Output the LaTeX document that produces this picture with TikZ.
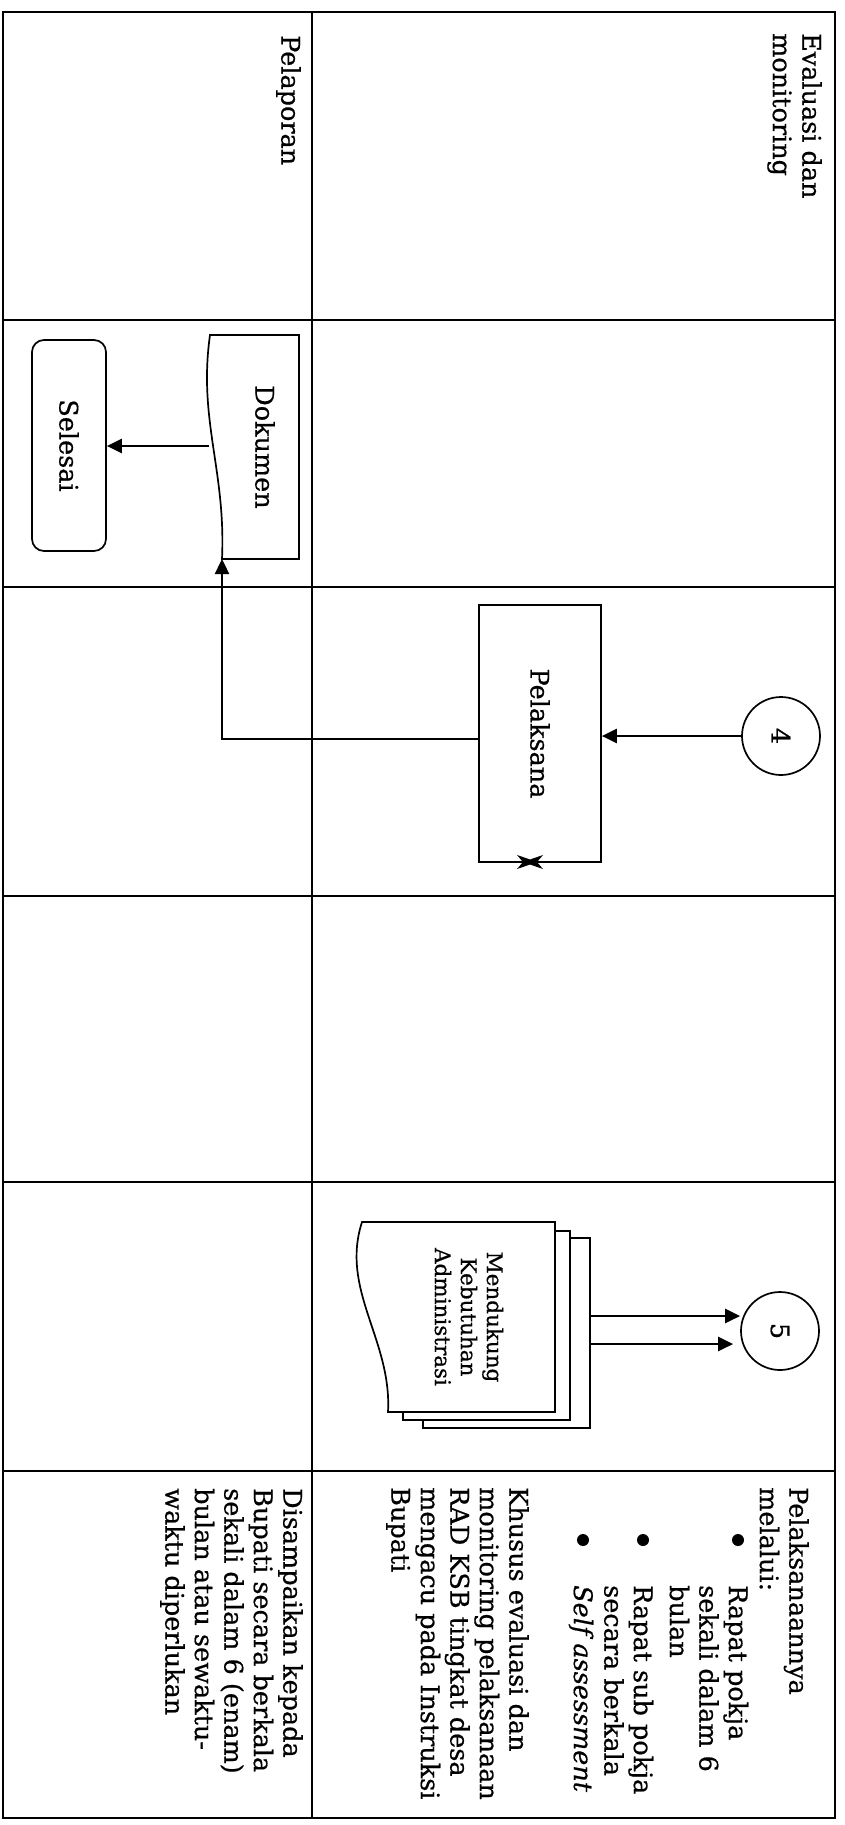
\documentclass[tikz,border=0pt]{standalone}
\usepackage{fontspec}
\setmainfont{DejaVu Serif}[FakeBold=0.6]
\usepackage{graphicx}
\usetikzlibrary{arrows.meta,calc}
\begin{document}
\begin{tikzpicture}[x=1pt,y=-1pt,
  tbl/.style={line width=2.6pt, line cap=rect},
  shp/.style={draw, line width=1.7pt},
  arr/.style={line width=2.4pt, -{Triangle[length=15pt,width=14pt]}},
  rtxt/.style={rotate=-90, align=left, inner sep=0pt, font=\fontsize{25.5}{29.5}\selectfont},
  lbl/.style={font=\fontsize{25.5}{29.5}\selectfont},
  bullet/.style={circle, fill, inner sep=0pt, minimum size=12pt}]
\useasboundingbox (0,0) rectangle (844,1825);
\fill[white] (0,0) rectangle (844,1825);
% table
\draw[tbl] (3,12) rectangle (835,1818);
\draw[tbl] (312,12) -- (312,1818);
\foreach \yy in {320,587,896,1182,1471} \draw[tbl] (3,\yy) -- (835,\yy);
% row labels
\node[rtxt, anchor=north west] (evl) at (822,33) {Evaluasi dan\\monitoring};
\node[rtxt, anchor=north west] (plp) at (301,35) {Pelaporan};
% Dokumen
\draw[shp, fill=white] (299,335) -- (210,335) .. controls (198,420) and (226,470) .. (222,559) -- (299,559) -- cycle;
\node[lbl, inner sep=0pt] (dok) at (265,447) {\rotatebox{-90}{Dokumen}};
\coordinate (dokw) at (209,446);
\coordinate (dokin) at (222,559);
% Selesai
\node[shp, lbl, rounded corners=12pt, minimum width=74pt, minimum height=211pt] (sel) at (69,445.5) {\rotatebox{-90}{Selesai}};
\draw[arr] (dokw) -- (dokw -| sel.east);
% Pelaksana
\node[shp, lbl, minimum width=122pt, minimum height=257pt] (pel) at (540,733.5) {\rotatebox{-90}{Pelaksana}};
\node[shp, lbl, circle, minimum size=78pt, inner sep=0pt] (c4) at (781,736) {\rotatebox{-90}{4}};
\draw[arr] (c4.west) -- (c4.west -| pel.east);
\draw[arr] ([yshift=-5.5pt]pel.west) -| (dokin);
\fill (517,855) -- (530,859.5) -- (543,855) -- (537,862) -- (543,869) -- (530,864.5) -- (517,869) -- (523,862) -- cycle;
% multi document
\draw[shp, fill=white] (423,1238) rectangle (590,1428);
\draw[shp, fill=white] (403,1231) rectangle (570,1420);
\draw[shp, fill=white] (555,1222) -- (362,1222) .. controls (340,1290) and (392,1340) .. (388,1412) -- (555,1412) -- cycle;
\node (stack) at (506.5,1333) [minimum width=167pt, minimum height=190pt, inner sep=0pt] {};
\node[rotate=-90, align=center, inner sep=0pt, font=\fontsize{21.5}{26}\selectfont] (mdt) at (469,1317) {Mendukung\\Kebutuhan\\Administrasi};
\node[shp, lbl, circle, minimum size=78pt, inner sep=0pt] (c5) at (780,1331) {\rotatebox{-90}{5}};
\draw[arr] ([yshift=17pt]stack.east) -- ([yshift=17pt]stack.east -| c5.west);
\draw[arr] ([yshift=-11pt]stack.east) -- ([yshift=-11pt,xshift=-7pt]stack.east -| c5.west);
% keterangan
\node[rtxt, anchor=north west] (k1) at (809,1487) {Pelaksanaannya\\melalui:};
\node[bullet] (b1) at (738,1540) {};
\node[rtxt, anchor=north west] (i1) at (748.5,1585) {Rapat pokja\\sekali dalam 6\\bulan};
\node[bullet] (b2) at (643,1540) {};
\node[rtxt, anchor=north west] (i2) at (653.5,1585) {Rapat sub pokja\\secara berkala};
\node[bullet] (b3) at (583,1540) {};
\node[rtxt, anchor=north west] (i3) at (593.5,1585) {\textit{Self assessment}};
\node[rtxt, anchor=north west] (k2) at (529,1487) {Khusus evaluasi dan\\monitoring pelaksanaan\\RAD KSB tingkat desa\\mengacu pada Instruksi\\Bupati};
\node[rtxt, anchor=north west] (k3) at (303,1488) {Disampaikan kepada\\Bupati secara berkala\\sekali dalam 6 (enam)\\bulan atau sewaktu-\\waktu diperlukan};
\end{tikzpicture}
\end{document}
